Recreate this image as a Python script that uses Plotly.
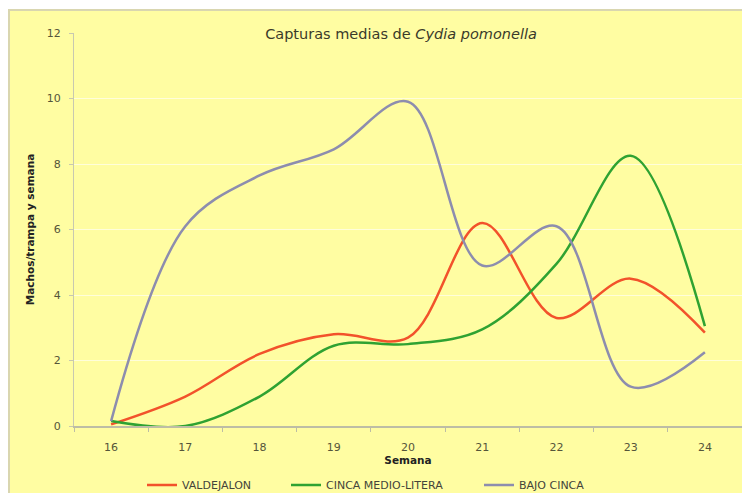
import plotly.graph_objects as go

weeks = ["16", "17", "18", "19", "20", "21", "22", "23", "24"]
valdejalon = [0.05, 0.9, 2.2, 2.8, 2.7, 6.2, 3.3, 4.5, 2.85]
cinca_medio = [0.15, 0.0, 0.9, 2.45, 2.5, 2.95, 4.95, 8.25, 3.05]
bajo_cinca = [0.15, 6.1, 7.65, 8.45, 9.9, 4.9, 6.1, 1.2, 2.25]
y_ticks = [0, 2, 4, 6, 8, 10, 12]

FONT = "DejaVu Sans"
BG = "#FFFDA2"

# figure is drawn inside the page's 8px body margin
W, H = 742, 485
L, R, T, B = 66, 734, 25, 418

def px_x(px):
    return (px - L) / (R - L)

def px_y(py):
    return (B - py) / (B - T)

series = [
    ("VALDEJALON", valdejalon, "#F2522B", "legend", 134),
    ("CINCA MEDIO-LITERA", cinca_medio, "#2FA232", "legend2", 278),
    ("BAJO CINCA", bajo_cinca, "#8D8DAE", "legend3", 471),
]

fig = go.Figure()
for name, vals, col, lg, _ in series:
    fig.add_trace(go.Scatter(x=weeks, y=vals, name=name, mode="lines", legend=lg,
                             line=dict(color=col, width=2.5, shape="spline", smoothing=1.0)))

fig.add_shape(type="rect", xref="paper", yref="paper",
              x0=px_x(1), x1=px_x(780), y0=px_y(560), y1=px_y(2),
              fillcolor=BG, line=dict(color="#D9D6B0", width=2), layer="below")

legend_common = dict(orientation="h", xanchor="left", xref="container", yref="container",
                     y=1 - 477 / H, yanchor="middle",
                     font=dict(family=FONT, size=11, color="#44443A"),
                     bgcolor="rgba(0,0,0,0)")

fig.update_layout(
    width=W, height=H,
    margin=dict(l=L, r=W - R, t=T, b=H - B),
    paper_bgcolor="white",
    plot_bgcolor="rgba(0,0,0,0)",
    font=dict(family=FONT, size=11, color="#55553A"),
    title=dict(text="Capturas medias de <i>Cydia pomonella</i>",
               font=dict(family=FONT, size=14.5, color="#3A3A2A"),
               xref="container", x=393 / W, xanchor="center",
               yref="container", y=1 - 26 / H, yanchor="middle"),
    showlegend=True,
    legend=dict(x=series[0][4] / W, **legend_common),
    legend2=dict(x=series[1][4] / W, **legend_common),
    legend3=dict(x=series[2][4] / W, **legend_common),
)

fig.update_xaxes(
    type="category", range=[-0.5, 8.5], automargin=False,
    showline=True, linecolor="#BDBDA5", linewidth=1.5,
    ticks="outside", tickson="boundaries", ticklen=4, tickcolor="#BDBDA5",
    ticklabelstandoff=10,
    showgrid=False, tickfont=dict(family=FONT, size=11, color="#55553A"),
    title=dict(text="<b>Semana</b>", font=dict(family=FONT, size=10.5, color="#222"), standoff=2),
)
fig.update_yaxes(
    range=[0, 12], tickvals=y_ticks, automargin=False,
    showline=True, linecolor="#C8C8B0", linewidth=1,
    ticks="outside", ticklen=4, tickcolor="#C8C8B0", ticklabelstandoff=6,
    showgrid=True, gridcolor="rgba(255,255,255,0.6)", gridwidth=1,
    zeroline=False, tickfont=dict(family=FONT, size=11, color="#55553A"),
    title=dict(text="<b>Machos/trampa y semana</b>", font=dict(family=FONT, size=10.5, color="#222"), standoff=10),
)

fig.write_html("out.html")
